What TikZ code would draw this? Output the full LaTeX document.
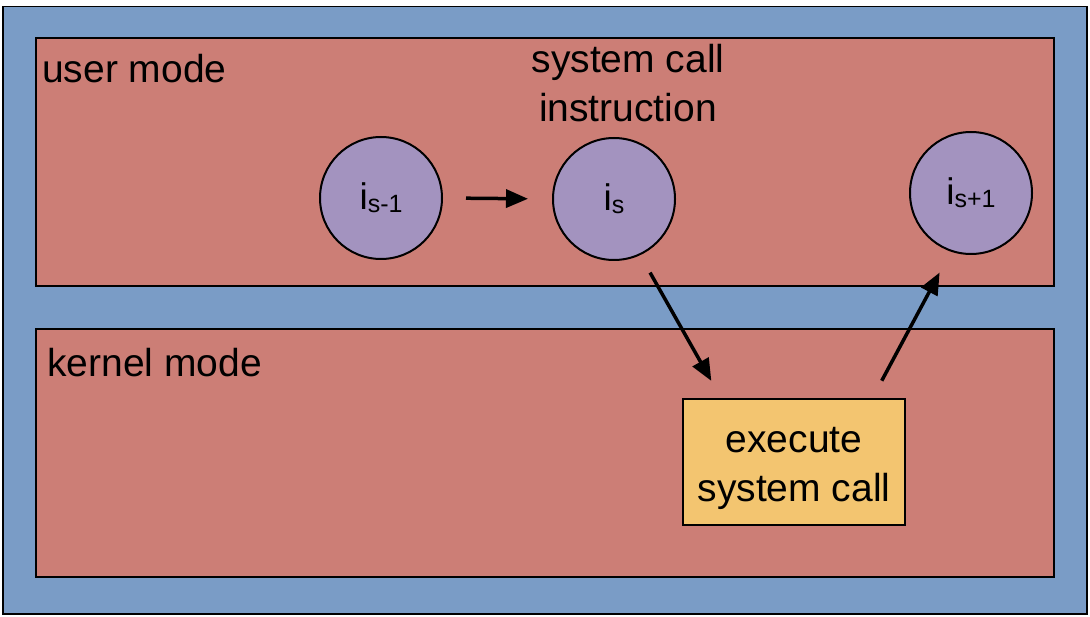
\documentclass[tikz,border=0pt]{standalone}
\usepackage{fontspec}
\setmainfont{Liberation Sans}
\usetikzlibrary{arrows.meta}
\definecolor{bgblue}{RGB}{122,156,198}
\definecolor{modered}{RGB}{204,126,118}
\definecolor{instrpurple}{RGB}{163,147,191}
\definecolor{execyellow}{RGB}{243,197,112}
\tikzset{
  modebox/.style={draw=black, line width=2pt, fill=modered, minimum width=1018pt, minimum height=248pt, anchor=north west, inner sep=0pt},
  instr/.style={circle, draw=black, line width=2pt, fill=instrpurple, minimum size=122pt, inner sep=0pt, font=\fontsize{37}{37}\selectfont},
  bigtext/.style={font=\fontsize{39}{49}\selectfont, inner sep=0pt},
  flow/.style={line width=3.5pt, -{Triangle[length=22pt,width=18pt]}}
}
\newcommand{\subtxt}[1]{{\fontsize{25}{25}\selectfont\raisebox{-3pt}{#1}}}
\newcommand{\instrtxt}[1]{\raisebox{-4pt}{i\subtxt{#1}}}
\begin{document}
\begin{tikzpicture}[x=1pt,y=-1pt]
\useasboundingbox (0,0) rectangle (1090,617);
\fill[white] (0,0) rectangle (1090,617);
\node[draw=black, line width=1.5pt, fill=bgblue, minimum width=1084pt, minimum height=607pt, anchor=north west, inner sep=0pt] (outer) at (2,6) {};
\node[modebox] (user) at (35,37) {};
\node[modebox] (kernel) at (35,328) {};
\node[bigtext, anchor=base west] (userlbl) at (42,83) {user mode};
\node[bigtext, anchor=base west] (kernlbl) at (47,377) {kernel mode};
\node[bigtext, anchor=base, align=center] (syslbl) at (628,122) {system call\\instruction};
\node[instr] (ism) at (381,198) {\instrtxt{s-1}};
\node[instr] (is) at (614,199) {\instrtxt{s}};
\node[instr] (isp) at (971,193) {\instrtxt{s+1}};
\node[draw=black, line width=2pt, fill=execyellow, minimum width=222pt, minimum height=126pt, inner sep=0pt] (exec) at (794,462) {};
\node[bigtext, anchor=base, align=center] (execlbl) at (794,501) {execute\\system call};
\draw[flow, shorten <=23pt, shorten >=24pt] (ism.east) -- (is.west);
\draw[flow, shorten <=20pt, shorten >=19.6pt] (is.-65) -- ([xshift=-73pt]exec.north);
\draw[flow, shorten <=19.6pt, shorten >=23.7pt] ([xshift=78.5pt]exec.north) -- (isp.-109.3);
\end{tikzpicture}
\end{document}
